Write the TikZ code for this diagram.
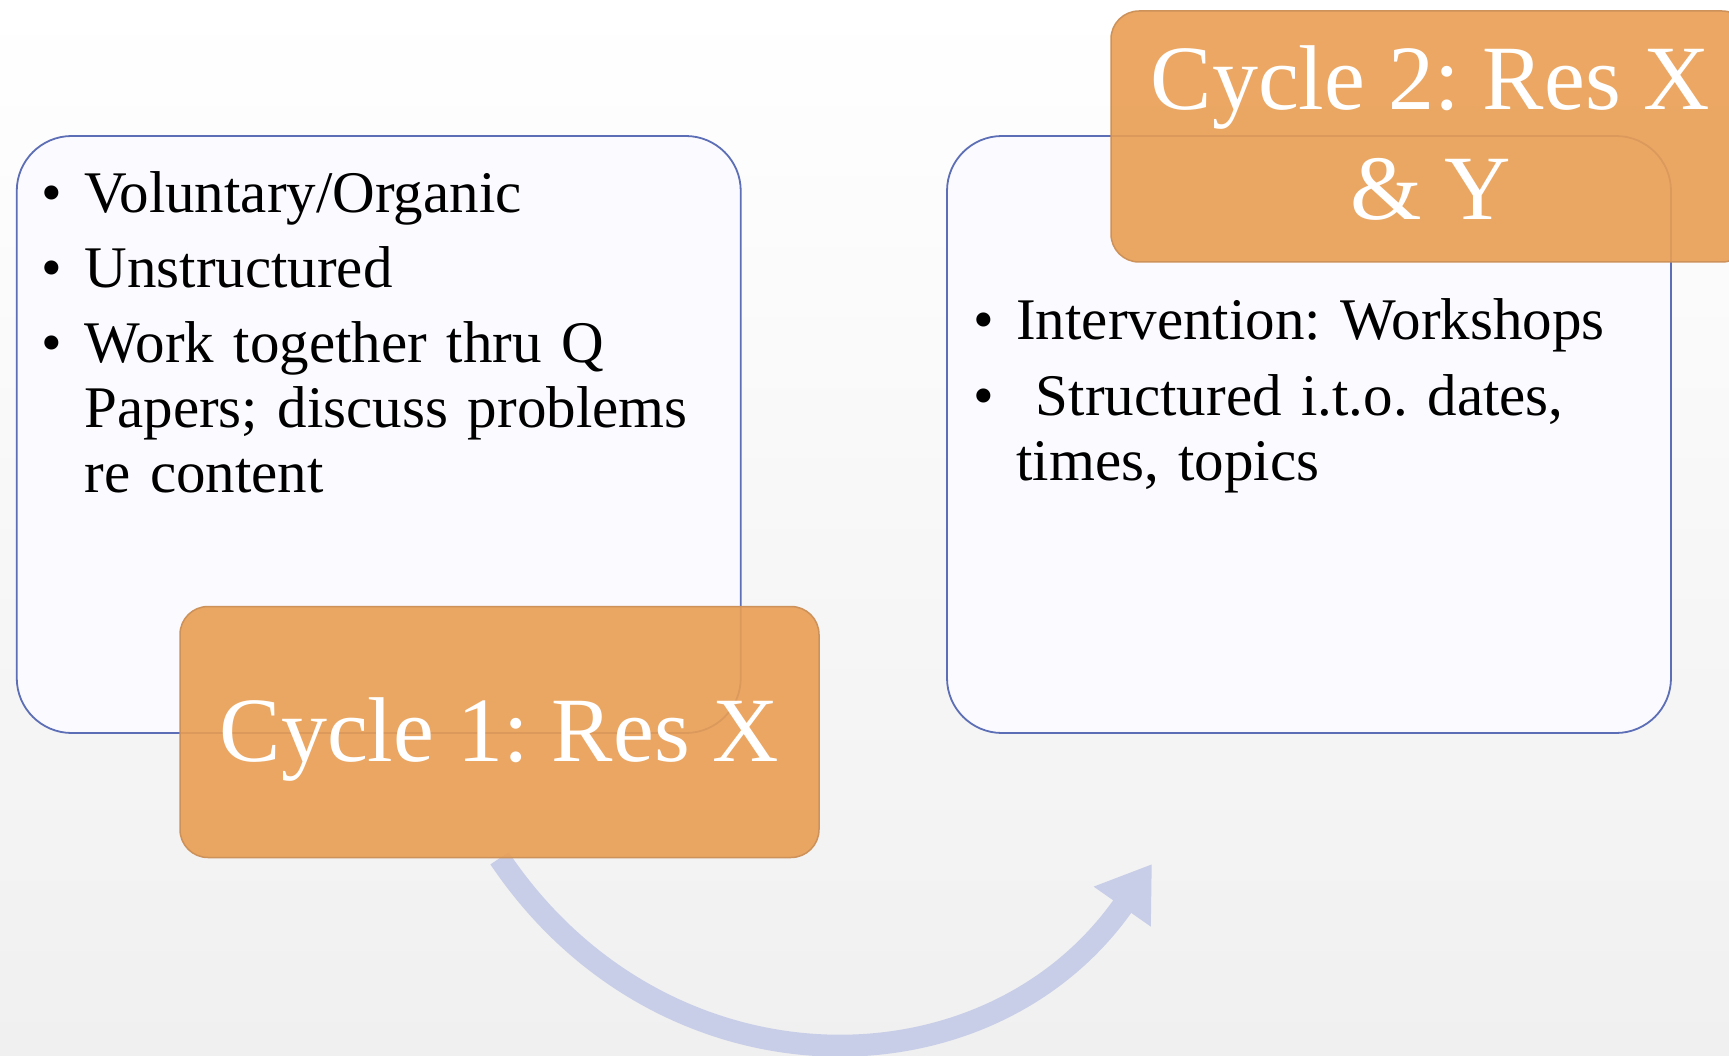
\documentclass[tikz,border=0pt]{standalone}
\usepackage{fontspec}
\setmainfont{Liberation Serif}
\usepackage{enumitem}
\usepackage{tikz}
\usetikzlibrary{arrows.meta,positioning}
\pgfdeclarelayer{background}
\pgfsetlayers{background,main}
\definecolor{boxline}{RGB}{92,110,182}
\definecolor{boxfill}{RGB}{251,250,254}
\definecolor{cycfill}{RGB}{233,158,83}
\definecolor{cycline}{RGB}{205,145,90}
\definecolor{arrowfill}{RGB}{201,206,232}
\definecolor{bgbottom}{RGB}{240,240,240}
\setlist[itemize]{label=\textbullet,leftmargin=42pt,labelsep=22pt,labelwidth=20pt,itemsep=10pt,parsep=0pt,topsep=0pt,partopsep=0pt}
\frenchspacing

\begin{document}
\begin{tikzpicture}[x=1pt,y=-1pt,
		panel/.style={draw=boxline,line width=1.8pt,fill=boxfill,rounded corners=55pt,minimum width=724pt,minimum height=597pt,inner sep=0pt},
		cyc/.style={draw=cycline,line width=1.5pt,fill=cycfill,fill opacity=0.9,rounded corners=28pt,minimum width=639pt,minimum height=251pt,inner sep=0pt},
		ttl/.style={text=white,font=\fontsize{92}{110}\selectfont,inner sep=0pt,align=center},
		pts/.style={anchor=north west,inner sep=0pt,text width=700pt,align=left,font=\fontsize{59}{65}\selectfont\raggedright}]
		\clip (0,0) rectangle (1729,1056);
		% LEFT BOX
		\node[panel] (lbox) at (378.75,434.5) {};
		\node[pts] (ltxt) at ([xshift=26.5pt,yshift=-12pt]lbox.north west) {%
			\begin{itemize}
			\item\rule{0pt}{45pt}Voluntary/Organic
			\item Unstructured
			\item Work together thru Q\newline Papers; discuss problems\newline re content
			\end{itemize}};
		\node[cyc] (c1) at (499.5,732) {};
		\node[ttl,anchor=base] (c1t) at ([yshift=-29pt]c1.center) {Cycle 1: Res X};
		% RIGHT BOX
		\node[panel] (rbox) at (1309,434.5) {};
		\node[pts] (rtxt) at ([xshift=28pt,yshift=-139pt]rbox.north west) {%
			\begin{itemize}[itemsep=11pt]
			\item\rule{0pt}{45pt}Intervention: Workshops
			\item\ Structured i.t.o. dates,\newline times, topics
			\end{itemize}};
		\node[cyc] (c2) at (1430.5,136.5) {};
		\node[ttl,anchor=base] (c2t) at ([yshift=-83.5pt]c2.center) {Cycle 2: Res X\\ \& Y};
		% ARROW
		\coordinate (tip) at (1152,864);
		\begin{pgfonlayer}{background}
			\shade[top color=white,bottom color=bgbottom] (0,0) rectangle (1729,1056);
			\draw[arrowfill,line width=22pt,-{Triangle[width=66pt,length=52pt]}] (c1.south) .. controls (662,1100) and (987,1100) .. (tip);
		\end{pgfonlayer}
\end{tikzpicture}
\end{document}
